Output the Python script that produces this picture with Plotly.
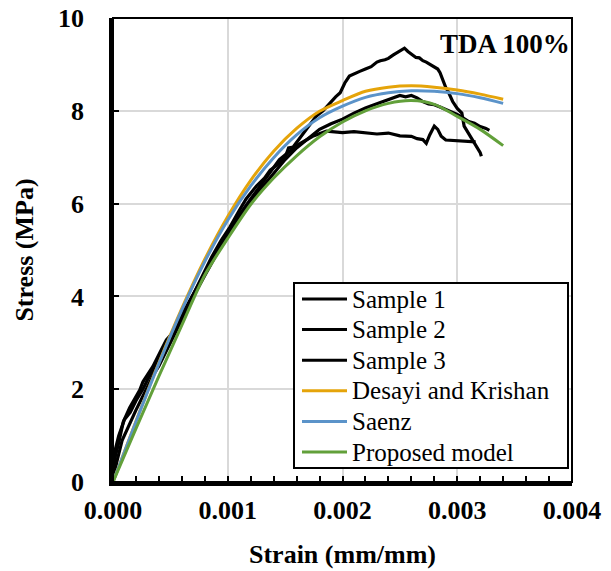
import plotly.graph_objects as go

# ---------------- data (strain, stress) ----------------
sample1 = [
    (0, 0), (0.00002, 0.55), (0.00005, 0.85), (0.00009, 1.3), (0.000145, 1.6), (0.00019, 1.8),
    (0.000233, 1.98), (0.000261, 2.16), (0.0003, 2.3), (0.000348, 2.49), (0.000407, 2.78),
    (0.000465, 3.06), (0.000552, 3.3), (0.00063, 3.7), (0.0007, 4.05), (0.00078, 4.45),
    (0.00086, 4.85), (0.00094, 5.2), (0.00102, 5.5), (0.0011, 5.85), (0.00116, 6.1),
    (0.00125, 6.38), (0.00132, 6.55), (0.00137, 6.72), (0.00144, 6.85), (0.0015, 7.0),
    (0.00153, 7.2), (0.00157, 7.22), (0.0016, 7.32), (0.00165, 7.5), (0.0017, 7.65),
    (0.00177, 7.88), (0.00183, 8.0), (0.00189, 8.17), (0.00194, 8.3), (0.00198, 8.39),
    (0.00202, 8.6), (0.00206, 8.75), (0.0021, 8.8), (0.00215, 8.85), (0.0022, 8.9),
    (0.00225, 8.95), (0.0023, 9.05), (0.00233, 9.08), (0.00237, 9.1), (0.0024, 9.13),
    (0.00244, 9.2), (0.00247, 9.25), (0.0025, 9.28), (0.00254, 9.35), (0.00257, 9.28),
    (0.0026, 9.22), (0.00264, 9.15), (0.00267, 9.14), (0.0027, 9.08), (0.00273, 9.05),
    (0.00276, 9.0), (0.0028, 8.95), (0.00283, 8.9), (0.00285, 8.82), (0.00288, 8.6),
    (0.0029, 8.5), (0.00292, 8.42), (0.00294, 8.3), (0.00296, 8.2), (0.003, 8.05),
    (0.00304, 7.95), (0.00306, 7.67), (0.00309, 7.55), (0.00311, 7.45), (0.00313, 7.38),
    (0.00315, 7.31), (0.00318, 7.2), (0.0032, 7.1), (0.00321, 7.02),
]
sample2 = [
    (0, 0), (0.00003, 0.4), (0.00008, 0.9), (0.00015, 1.3), (0.0002, 1.55), (0.00026, 1.85),
    (0.0003, 2.05), (0.00035, 2.3), (0.0004, 2.5), (0.0005, 3.0), (0.0006, 3.5), (0.0007, 4.0),
    (0.0008, 4.45), (0.0009, 4.9), (0.001, 5.3), (0.0011, 5.7), (0.0012, 6.05), (0.0013, 6.35),
    (0.0014, 6.65), (0.0015, 6.95), (0.0016, 7.2), (0.0017, 7.4), (0.0018, 7.6), (0.0019, 7.72),
    (0.002, 7.82), (0.0021, 7.95), (0.0022, 8.06), (0.0023, 8.15), (0.0024, 8.24), (0.00245, 8.27),
    (0.0025, 8.33), (0.00255, 8.3), (0.0026, 8.33), (0.00265, 8.28), (0.0027, 8.2), (0.00275, 8.15),
    (0.0028, 8.13), (0.00285, 8.08), (0.0029, 8.03), (0.00295, 7.98), (0.003, 7.92), (0.00305, 7.85),
    (0.0031, 7.77), (0.00315, 7.73), (0.0032, 7.66), (0.00325, 7.62), (0.00328, 7.58),
]
sample3 = [
    (0, 0), (0.00002, 0.7), (0.00005, 1.0), (0.0001, 1.35), (0.00015, 1.5), (0.0002, 1.75),
    (0.00026, 2.0), (0.0003, 2.2), (0.0004, 2.65), (0.0005, 3.1), (0.0006, 3.6), (0.0007, 4.05),
    (0.0008, 4.5), (0.0009, 4.95), (0.001, 5.35), (0.0011, 5.75), (0.0012, 6.1), (0.0013, 6.45),
    (0.00145, 6.95), (0.0016, 7.25), (0.00174, 7.45), (0.00186, 7.56), (0.0019, 7.55), (0.002, 7.53),
    (0.0021, 7.55), (0.0022, 7.52), (0.0023, 7.5), (0.0024, 7.52), (0.0025, 7.46), (0.0026, 7.45),
    (0.00265, 7.4), (0.0027, 7.38), (0.00273, 7.3), (0.00276, 7.48), (0.0028, 7.67), (0.00283, 7.6),
    (0.00286, 7.45), (0.0029, 7.37), (0.003, 7.35), (0.0031, 7.34), (0.00316, 7.33),
]
model_strain = [0, 0.0002, 0.0004, 0.0006, 0.0008, 0.001, 0.0012, 0.0014, 0.0016, 0.0018,
                0.002, 0.0022, 0.0024, 0.0026, 0.0028, 0.003, 0.0032, 0.0034]
desayi_stress = [0, 1.31, 2.57, 3.74, 4.80, 5.72, 6.50, 7.13, 7.62, 7.99,
                 8.22, 8.42, 8.51, 8.54, 8.51, 8.45, 8.36, 8.25]
saenz_stress = [0, 1.30, 2.55, 3.71, 4.75, 5.64, 6.38, 6.99, 7.48, 7.85,
                8.10, 8.29, 8.39, 8.43, 8.42, 8.37, 8.28, 8.16]
proposed_stress = [0, 1.15, 2.28, 3.38, 4.46, 5.25, 5.98, 6.55, 7.03, 7.44,
                   7.76, 8.00, 8.16, 8.22, 8.14, 7.88, 7.60, 7.25]

series_names = ["Sample 1", "Sample 2", "Sample 3", "Desayi and Krishan", "Saenz", "Proposed model"]
series_colors = ["black", "black", "black", "#E5A40A", "#5B93C9", "#62A03A"]

x_ticks = [0, 0.001, 0.002, 0.003, 0.004]
y_ticks = [0, 2, 4, 6, 8, 10]

FONT = "Liberation Serif"

# plot-area geometry in pixels (for paper-coordinate placement of legend box)
W, H = 611, 571
L, R, T, B = 113, 39, 18, 89
PW, PH = W - L - R, H - T - B


def px_x(px):
    return (px - L) / PW


def px_y(py):
    return (H - B - py) / PH


fig = go.Figure()
for name, pts, color in zip(series_names[:3], [sample1, sample2, sample3], series_colors[:3]):
    fig.add_trace(go.Scatter(x=[p[0] for p in pts], y=[p[1] for p in pts], mode="lines",
                             name=name, showlegend=False, line=dict(color=color, width=3.2)))
for name, ys, color in zip(series_names[3:], [desayi_stress, saenz_stress, proposed_stress],
                           series_colors[3:]):
    fig.add_trace(go.Scatter(x=model_strain, y=ys, mode="lines", name=name, showlegend=False,
                             line=dict(color=color, width=3, shape="spline", smoothing=0.8)))

axis_common = dict(
    showgrid=True, gridcolor="#d9d9d9", gridwidth=1.5, zeroline=False, automargin=False,
    showline=True, linecolor="black", linewidth=3.5,
    ticks="inside", ticklen=6, tickwidth=2, tickcolor="black",
    tickfont=dict(family=FONT, size=26, color="black", weight="bold"),
)

# custom legend (box, line samples and labels)
shapes = [dict(type="rect", xref="paper", yref="paper", x0=0, x1=1, y0=0, y1=1,
               line=dict(color="black", width=2)),
          dict(type="rect", xref="paper", yref="paper", x0=px_x(294), x1=px_x(568),
               y0=px_y(468), y1=px_y(283), fillcolor="white", line=dict(color="black", width=2),
               layer="above")]
annotations = [dict(text="TDA 100%", x=1, y=px_y(44), xref="paper", yref="paper",
                    xanchor="right", yanchor="middle", showarrow=False,
                    font=dict(family=FONT, size=27, color="black", weight="bold"))]
row0, row_gap = 299, 30.6
for i, (name, color) in enumerate(zip(series_names, series_colors)):
    yc = row0 + i * row_gap
    shapes.append(dict(type="line", xref="paper", yref="paper", x0=px_x(302), x1=px_x(347),
                       y0=px_y(yc), y1=px_y(yc), line=dict(color=color, width=3), layer="above"))
    annotations.append(dict(text=name, x=px_x(350), y=px_y(yc), xref="paper", yref="paper",
                            xanchor="left", yanchor="middle", showarrow=False,
                            font=dict(family=FONT, size=25, color="black")))

fig.update_layout(
    width=W, height=H,
    margin=dict(l=L, r=R, t=T, b=B),
    plot_bgcolor="white", paper_bgcolor="white",
    showlegend=False,
    xaxis=dict(range=[0, 0.004], tickvals=x_ticks, tickformat=".3f",
               minor=dict(ticks="inside", ticklen=6, tickwidth=2, tickcolor="black",
                          dtick=0.0002, showgrid=False),
               ticklabelstandoff=2,
               title=dict(text="Strain (mm/mm)", standoff=22,
                          font=dict(family=FONT, size=26, color="black", weight="bold")),
               **axis_common),
    yaxis=dict(range=[0, 10], tickvals=y_ticks, ticklabelstandoff=20,
               title=dict(text="Stress (MPa)", standoff=18,
                          font=dict(family=FONT, size=26, color="black", weight="bold")),
               **axis_common),
    shapes=shapes,
    annotations=annotations,
)
fig.write_html("out.html", config={"displayModeBar": False},
               post_script="document.body.style.margin='0';")
